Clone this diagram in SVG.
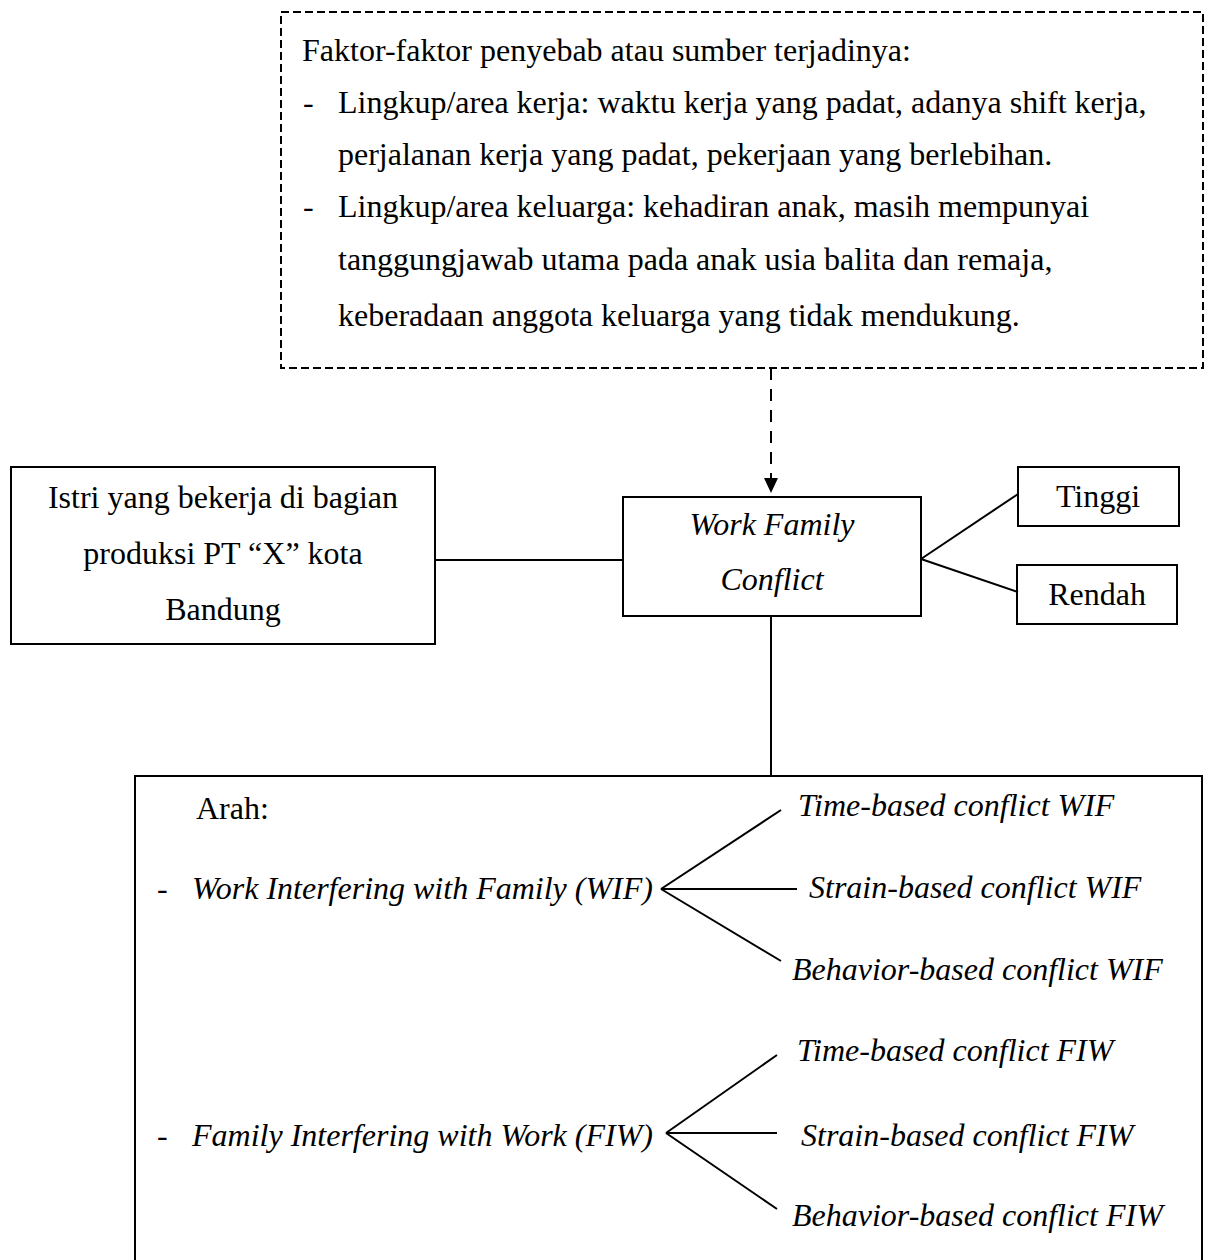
<svg xmlns="http://www.w3.org/2000/svg" width="1205" height="1260" viewBox="0 0 1205 1260">
<style>
  text { font-family: "Liberation Serif", "Times New Roman", serif; font-size: 32px; fill: #000; }
  .it { font-style: italic; }
  .mid { text-anchor: middle; }
  .box { fill: none; stroke: #000; stroke-width: 2; }
  .dbox { fill: none; stroke: #000; stroke-width: 2; stroke-dasharray: 8 4; }
  .ln { fill: none; stroke: #000; stroke-width: 2; }
  .dln { fill: none; stroke: #000; stroke-width: 2; stroke-dasharray: 12 9; }
</style>
<rect width="1205" height="1260" fill="#fff"/>

<g id="factors">
  <rect class="dbox" x="281" y="12" width="922" height="356"/>
  <text x="302" y="61">Faktor-faktor penyebab atau sumber terjadinya:</text>
  <text x="303" y="113">-</text>
  <text x="338" y="113">Lingkup/area kerja: waktu kerja yang padat, adanya shift kerja,</text>
  <text x="338" y="165">perjalanan kerja yang padat, pekerjaan yang berlebihan.</text>
  <text x="303" y="217">-</text>
  <text x="338" y="217">Lingkup/area keluarga: kehadiran anak, masih mempunyai</text>
  <text x="338" y="270">tanggungjawab utama pada anak usia balita dan remaja,</text>
  <text x="338" y="326">keberadaan anggota keluarga yang tidak mendukung.</text>
</g>

<g id="istri">
  <rect class="box" x="11" y="467" width="424" height="177"/>
  <text class="mid" x="223" y="508">Istri yang bekerja di bagian</text>
  <text class="mid" x="223" y="564">produksi PT “X” kota</text>
  <text class="mid" x="223" y="620">Bandung</text>
</g>

<g id="wfc">
  <rect class="box" x="623" y="497" width="298" height="119"/>
  <text class="mid it" x="772" y="535">Work Family</text>
  <text class="mid it" x="772" y="590">Conflict</text>
</g>

<g id="tinggi">
  <rect class="box" x="1018" y="467" width="161" height="59"/>
  <text class="mid" x="1098" y="507">Tinggi</text>
</g>

<g id="rendah">
  <rect class="box" x="1017" y="565" width="160" height="59"/>
  <text class="mid" x="1097" y="605">Rendah</text>
</g>

<g id="arah">
  <rect class="box" x="135" y="776" width="1067" height="520"/>
  <text x="196" y="819">Arah:</text>
  <text x="157" y="899">-</text>
  <text class="it" x="192" y="899">Work Interfering with Family (WIF)</text>
  <text class="it" x="798" y="816">Time-based conflict WIF</text>
  <text class="it" x="809" y="898">Strain-based conflict WIF</text>
  <text class="it" x="792" y="980">Behavior-based conflict WIF</text>
  <text x="157" y="1146">-</text>
  <text class="it" x="192" y="1146">Family Interfering with Work (FIW)</text>
  <text class="it" x="797" y="1061">Time-based conflict FIW</text>
  <text class="it" x="801" y="1146">Strain-based conflict FIW</text>
  <text class="it" x="792" y="1226">Behavior-based conflict FIW</text>
</g>

<g id="connectors">
  <line class="dln" x1="771" y1="368" x2="771" y2="478"/>
  <path d="M764,478 L778,478 L771,493 Z" fill="#000"/>
  <line class="ln" x1="435" y1="560" x2="623" y2="560"/>
  <line class="ln" x1="921" y1="559" x2="1018" y2="494"/>
  <line class="ln" x1="921" y1="559" x2="1018" y2="592"/>
  <line class="ln" x1="771" y1="616" x2="771" y2="776"/>
  <line class="ln" x1="661" y1="889" x2="781" y2="810"/>
  <line class="ln" x1="661" y1="889" x2="797" y2="889"/>
  <line class="ln" x1="661" y1="889" x2="781" y2="961"/>
  <line class="ln" x1="666" y1="1133" x2="777" y2="1055"/>
  <line class="ln" x1="666" y1="1133" x2="777" y2="1133"/>
  <line class="ln" x1="666" y1="1133" x2="777" y2="1209"/>
</g>
</svg>
